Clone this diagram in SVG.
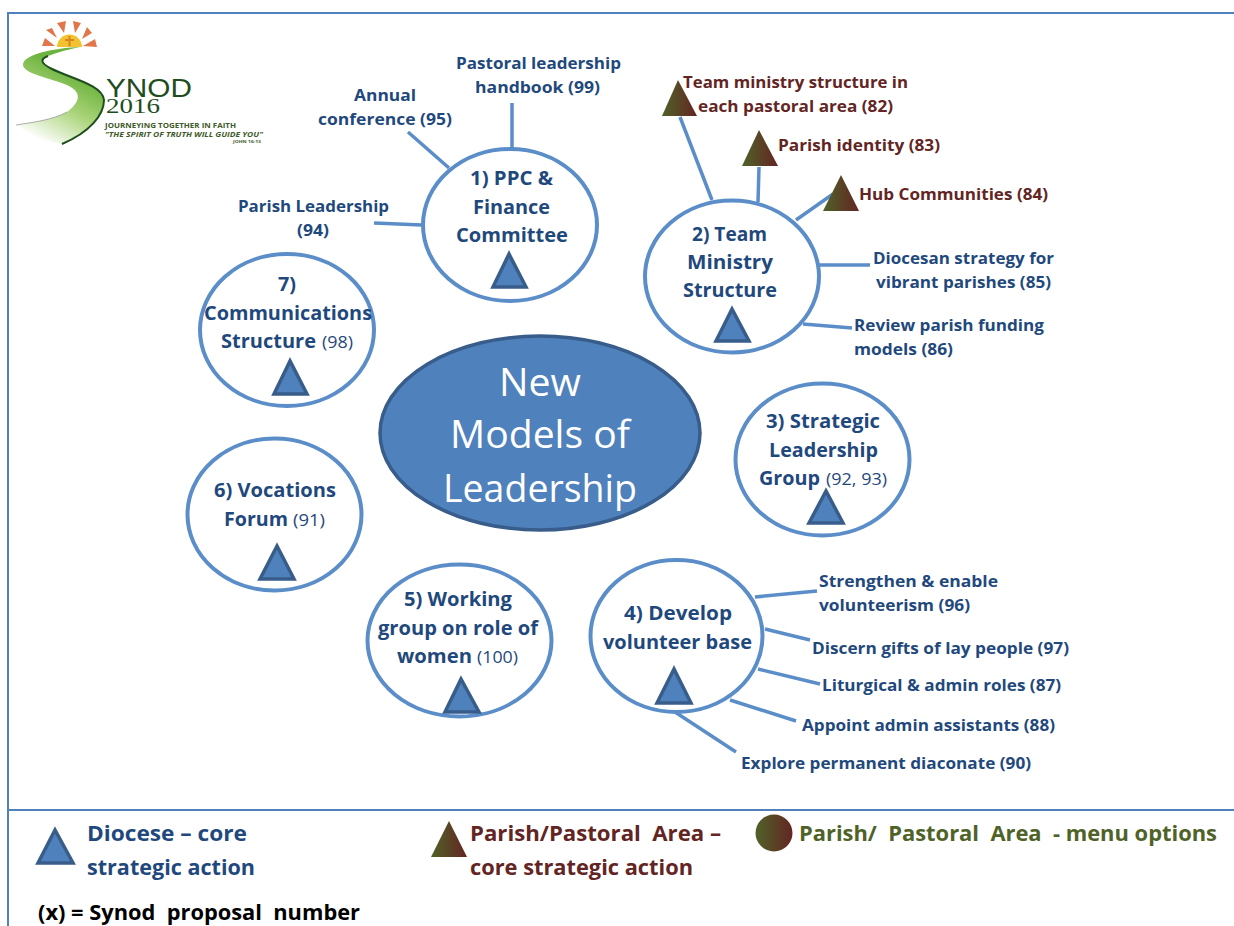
<svg xmlns="http://www.w3.org/2000/svg" width="1234" height="926" viewBox="0 0 1234 926">
<defs>
<linearGradient id="gm"><stop offset="0" stop-color="#4f6228"/><stop offset="1" stop-color="#632523"/></linearGradient>
<linearGradient id="road" gradientUnits="userSpaceOnUse" x1="78" y1="75" x2="42" y2="142"><stop offset="0" stop-color="#6cb33f"/><stop offset="0.45" stop-color="#a9d377"/><stop offset="1" stop-color="#ffffff"/></linearGradient>
<style>
text{font-family:"Open Sans","Liberation Sans",sans-serif;font-weight:700}
.c{fill:#fff;stroke:#5b8ec9;stroke-width:4}
.t{fill:#4f81bd;stroke:#385d8a;stroke-width:3.5;stroke-linejoin:miter}
.g{fill:url(#gm)}
.l{stroke:#5b8ec9;stroke-width:3.5;fill:none}
.f{stroke:#4f81bd;stroke-width:2;fill:none}
.h{fill:#1f497d;font-size:20px}
.s{fill:#1f497d;font-size:16.5px}
.r{fill:#632523;font-size:16.5px}
.n{font-weight:400;font-size:17px;fill:#1f497d}
.m{font-size:39px;fill:#fff;font-weight:400}
.lg{font-size:22px}
.ray{fill:#e0764a}
.lt{fill:#3f5a2a;font-size:6.5px}
</style>
</defs>
<g id="frame">
<path class="f" d="M1234 13H8V926"/>
<path class="f" d="M8 810H1234"/>
</g>
<g id="logo">
<path class="ray" d="M42 46L45 38L55 46Z"/>
<path class="ray" d="M46 30L52 28L57 38Z"/>
<path class="ray" d="M57 23L66 21L64 33Z"/>
<path class="ray" d="M73 21L81 23L75 33Z"/>
<path class="ray" d="M87 27L92 33L82 39Z"/>
<path class="ray" d="M83 46L95 39L97 47Z"/>
<path d="M57 47A12.5 12.5 0 0 1 82 47Z" fill="#f2c230"/>
<path d="M69.500 36V46M65 40H74" stroke="#d9861f" stroke-width="2"/>
<path d="M80 47C55 48 23 54 23 65C24 74 50 78 67 85C80 91 83 100 67 112C52 120 35 122 16 125C30 135 45 141 62 144C90 132 104 115 104 100C103 85 70 78 52 69C40 63 40 59 48 56C58 52 70 49 80 47Z" fill="url(#road)"/>
<path d="M48 56C40 59 40 63 52 69C70 78 103 85 104 100C104 115 90 132 62 144" fill="none" stroke="#1e4d1e" stroke-width="2"/>
<path d="M16 125C35 122 52 120 67 112" fill="none" stroke="#999" stroke-width="0.8"/>
<text x="106" y="97" font-size="25" textLength="86" lengthAdjust="spacingAndGlyphs" style="font-family:'Liberation Sans',sans-serif;font-weight:400" fill="#1e4d1e">YNOD</text>
<text x="106" y="113" font-size="20" textLength="54" lengthAdjust="spacingAndGlyphs" style="font-family:'Liberation Serif',serif;font-weight:400" fill="#1e4d1e">2016</text>
<text x="105" y="128" class="lt" textLength="131" lengthAdjust="spacingAndGlyphs">JOURNEYING TOGETHER IN FAITH</text>
<text x="105" y="137" class="lt" font-style="italic" textLength="158" lengthAdjust="spacingAndGlyphs">"THE SPIRIT OF TRUTH WILL GUIDE YOU"</text>
<text x="233" y="143" font-size="4" textLength="28" lengthAdjust="spacingAndGlyphs" fill="#3f5a2a">JOHN 16:13</text>
</g>
<g id="connectors">
<path class="l" d="M512 103V148M408 132L449 168M374 223L422 225"/>
<path class="l" d="M680 117L712 200M759 167L758 202M833 194L796 220M819 265H870M803 324L852 328"/>
<path class="l" d="M755 597L817 591M765 629L810 640M758 669L820 684M730 700L796 721M675 712L736 752"/>
</g>
<g id="center">
<ellipse cx="540" cy="433" rx="160" ry="97" fill="#4f81bd" stroke="#385d8a" stroke-width="3.5"/>
<text x="540" y="396" class="m" text-anchor="middle" textLength="82" lengthAdjust="spacingAndGlyphs">New</text>
<text x="540" y="448" class="m" text-anchor="middle" textLength="180" lengthAdjust="spacingAndGlyphs">Models of</text>
<text x="540" y="502" class="m" text-anchor="middle" textLength="194" lengthAdjust="spacingAndGlyphs">Leadership</text>
</g>
<g id="node1">
<ellipse class="c" cx="510" cy="225" rx="87" ry="76"/>
<path class="t" d="M509 254L493 287H526Z"/>
<text x="470" y="185" class="h" textLength="83" lengthAdjust="spacingAndGlyphs">1) PPC &amp;</text>
<text x="473" y="214" class="h" textLength="77" lengthAdjust="spacingAndGlyphs">Finance</text>
<text x="456" y="242" class="h" textLength="112" lengthAdjust="spacingAndGlyphs">Committee</text>
</g>
<g id="node2">
<ellipse class="c" cx="732" cy="276.500" rx="87" ry="76"/>
<path class="t" d="M732 309L716 341H749Z"/>
<text x="692" y="241" class="h" textLength="75" lengthAdjust="spacingAndGlyphs">2) Team</text>
<text x="687" y="269" class="h" textLength="86" lengthAdjust="spacingAndGlyphs">Ministry</text>
<text x="683" y="297" class="h" textLength="94" lengthAdjust="spacingAndGlyphs">Structure</text>
</g>
<g id="node3">
<ellipse class="c" cx="822.500" cy="459.500" rx="87" ry="76"/>
<path class="t" d="M826 491L809 523H843Z"/>
<text x="766" y="428" class="h" textLength="114" lengthAdjust="spacingAndGlyphs">3) Strategic</text>
<text x="769" y="457" class="h" textLength="109" lengthAdjust="spacingAndGlyphs">Leadership</text>
<text x="759" y="485" class="h" textLength="61" lengthAdjust="spacingAndGlyphs">Group</text>
<text x="826" y="485" class="n" textLength="61" lengthAdjust="spacingAndGlyphs">(92, 93)</text>
</g>
<g id="node4">
<ellipse class="c" cx="676.500" cy="636" rx="86" ry="76"/>
<path class="t" d="M674 669L657 703H691Z"/>
<text x="624" y="620" class="h" textLength="108" lengthAdjust="spacingAndGlyphs">4) Develop</text>
<text x="603" y="649" class="h" textLength="149" lengthAdjust="spacingAndGlyphs">volunteer base</text>
</g>
<g id="node5">
<ellipse class="c" cx="459.500" cy="640.500" rx="92" ry="76"/>
<path class="t" d="M461 679L445 712H479Z"/>
<text x="404" y="606" class="h" textLength="108" lengthAdjust="spacingAndGlyphs">5) Working</text>
<text x="378" y="635" class="h" textLength="160" lengthAdjust="spacingAndGlyphs">group on role of</text>
<text x="397" y="663" class="h" textLength="75" lengthAdjust="spacingAndGlyphs">women</text>
<text x="477" y="663" class="n" textLength="41" lengthAdjust="spacingAndGlyphs">(100)</text>
</g>
<g id="node6">
<ellipse class="c" cx="274.500" cy="514.500" rx="87" ry="76"/>
<path class="t" d="M277 546L260 579H294Z"/>
<text x="214" y="497" class="h" textLength="122" lengthAdjust="spacingAndGlyphs">6) Vocations</text>
<text x="224" y="526" class="h" textLength="64" lengthAdjust="spacingAndGlyphs">Forum</text>
<text x="293" y="526" class="n" textLength="32" lengthAdjust="spacingAndGlyphs">(91)</text>
</g>
<g id="node7">
<ellipse class="c" cx="287" cy="330" rx="87" ry="76"/>
<path class="t" d="M290 361L274 394H307Z"/>
<text x="278" y="291" class="h" textLength="18" lengthAdjust="spacingAndGlyphs">7)</text>
<text x="204" y="320" class="h" textLength="168" lengthAdjust="spacingAndGlyphs">Communications</text>
<text x="221" y="348" class="h" textLength="95" lengthAdjust="spacingAndGlyphs">Structure</text>
<text x="322" y="348" class="n" textLength="31" lengthAdjust="spacingAndGlyphs">(98)</text>
</g>
<g id="leaves-1">
<text x="456" y="69" class="s" textLength="165" lengthAdjust="spacingAndGlyphs">Pastoral leadership</text>
<text x="475" y="93" class="s" textLength="125" lengthAdjust="spacingAndGlyphs">handbook (99)</text>
<text x="354" y="101" class="s" textLength="62" lengthAdjust="spacingAndGlyphs">Annual</text>
<text x="318" y="125" class="s" textLength="134" lengthAdjust="spacingAndGlyphs">conference (95)</text>
<text x="238" y="212" class="s" textLength="151" lengthAdjust="spacingAndGlyphs">Parish Leadership</text>
<text x="297" y="236" class="s" textLength="32" lengthAdjust="spacingAndGlyphs">(94)</text>
</g>
<g id="leaves-2">
<path class="g" d="M678 80L662 116H697Z"/>
<path class="g" d="M759 130L742 166H778Z"/>
<path class="g" d="M841 175L823 211H859Z"/>
<text x="683" y="88" class="r" textLength="225" lengthAdjust="spacingAndGlyphs">Team ministry structure in</text>
<text x="698" y="112" class="r" textLength="195" lengthAdjust="spacingAndGlyphs">each pastoral area (82)</text>
<text x="778" y="151" class="r" textLength="162" lengthAdjust="spacingAndGlyphs">Parish identity (83)</text>
<text x="859" y="200" class="r" textLength="189" lengthAdjust="spacingAndGlyphs">Hub Communities (84)</text>
<text x="873" y="264" class="s" textLength="181" lengthAdjust="spacingAndGlyphs">Diocesan strategy for</text>
<text x="876" y="288" class="s" textLength="175" lengthAdjust="spacingAndGlyphs">vibrant parishes (85)</text>
<text x="854" y="331" class="s" textLength="190" lengthAdjust="spacingAndGlyphs">Review parish funding</text>
<text x="854" y="355" class="s" textLength="99" lengthAdjust="spacingAndGlyphs">models (86)</text>
</g>
<g id="leaves-4">
<text x="819" y="587" class="s" textLength="179" lengthAdjust="spacingAndGlyphs">Strengthen &amp; enable</text>
<text x="819" y="611" class="s" textLength="151" lengthAdjust="spacingAndGlyphs">volunteerism (96)</text>
<text x="812" y="654" class="s" textLength="257" lengthAdjust="spacingAndGlyphs">Discern gifts of lay people (97)</text>
<text x="822" y="691" class="s" textLength="239" lengthAdjust="spacingAndGlyphs">Liturgical &amp; admin roles (87)</text>
<text x="802" y="731" class="s" textLength="253" lengthAdjust="spacingAndGlyphs">Appoint admin assistants (88)</text>
<text x="741" y="769" class="s" textLength="290" lengthAdjust="spacingAndGlyphs">Explore permanent diaconate (90)</text>
</g>
<g id="legend">
<path class="t" d="M55 830L38 863H73Z"/>
<text x="87" y="841" class="lg" fill="#1f497d" textLength="160" lengthAdjust="spacingAndGlyphs">Diocese – core</text>
<text x="87" y="875" class="lg" fill="#1f497d" textLength="168" lengthAdjust="spacingAndGlyphs">strategic action</text>
<path class="g" d="M449 821L431 857H467Z"/>
<text x="470" y="841" class="lg" fill="#632523" xml:space="preserve" textLength="251" lengthAdjust="spacingAndGlyphs">Parish/Pastoral  Area –</text>
<text x="470" y="875" class="lg" fill="#632523" textLength="223" lengthAdjust="spacingAndGlyphs">core strategic action</text>
<circle cx="774" cy="833" r="18.500" fill="url(#gm)"/>
<text x="799" y="841" class="lg" fill="#4f6228" xml:space="preserve" textLength="418" lengthAdjust="spacingAndGlyphs">Parish/  Pastoral  Area  - menu options</text>
<text x="38" y="920" class="lg" fill="#000" xml:space="preserve" textLength="322" lengthAdjust="spacingAndGlyphs">(x) = Synod  proposal  number</text>
</g>
</svg>
